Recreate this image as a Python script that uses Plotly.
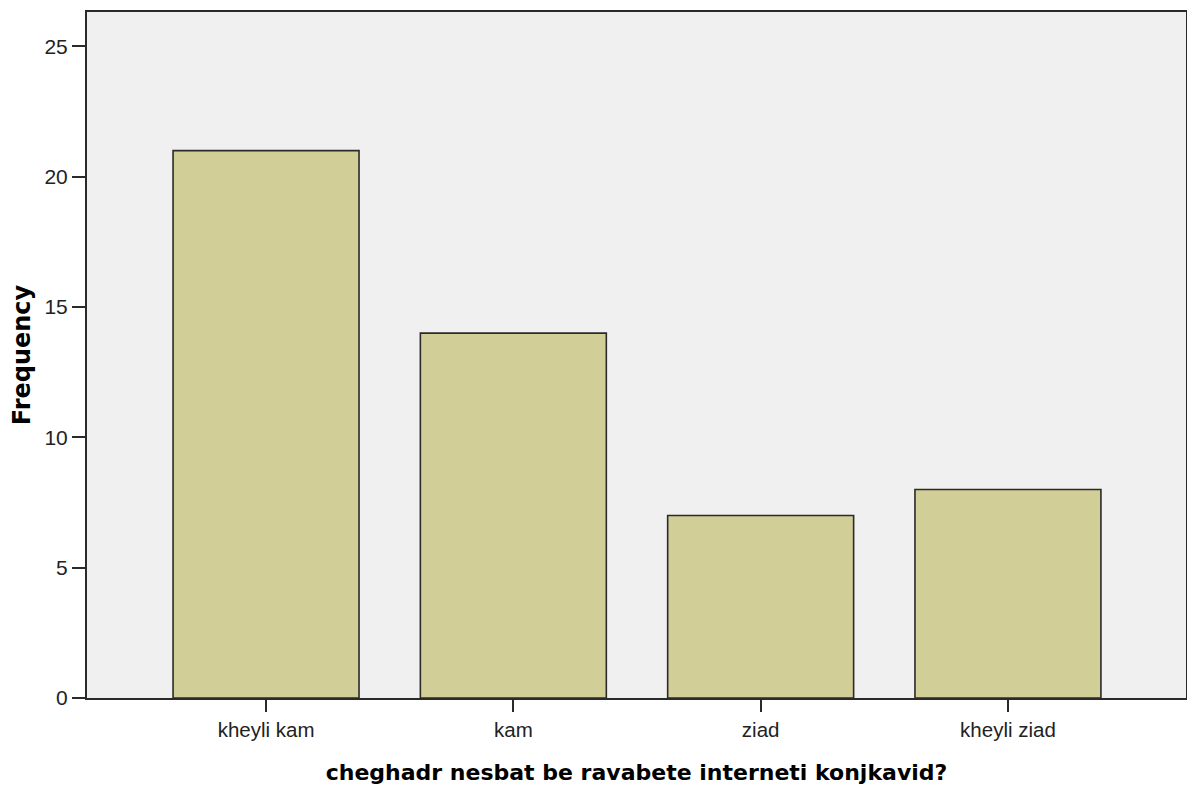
import plotly.graph_objects as go

categories = ["kheyli kam", "kam", "ziad", "kheyli ziad"]
frequencies = [21, 14, 7, 8]
y_ticks = [0, 5, 10, 15, 20, 25]

x_title = "cheghadr nesbat be ravabete interneti konjkavid?"
y_title = "Frequency"

fig = go.Figure()
fig.add_trace(go.Bar(
    x=list(range(len(categories))),
    y=frequencies,
    width=0.752,
    marker=dict(color="#D2CE97", line=dict(color="#2a2a2a", width=1.6)),
    hoverinfo="x+y",
))

bold_font = "DejaVu Sans, Verdana, sans-serif"
fig.update_layout(
    width=1187, height=785,
    margin=dict(l=79, r=9, t=2, b=95),
    paper_bgcolor="white",
    plot_bgcolor="#F0F0F0",
    showlegend=False,
    font=dict(family="Liberation Sans, Arial, sans-serif", color="#222"),
)
fig.update_xaxes(
    range=[-0.724, 3.72],
    tickmode="array",
    tickvals=list(range(len(categories))),
    ticktext=categories,
    ticks="outside", ticklen=12, tickwidth=1.6, tickcolor="#2a2a2a",
    tickfont=dict(size=20.5, color="#222"),
    showline=True, linecolor="#2a2a2a", linewidth=2, mirror=True,
    showgrid=False, zeroline=False,
    title=dict(text=x_title, font=dict(size=22, color="black", family=bold_font, weight="bold"), standoff=25),
)
fig.update_yaxes(
    range=[0, 26.32],
    tickmode="array",
    tickvals=y_ticks,
    ticks="outside", ticklen=13, tickwidth=1.6, tickcolor="#2a2a2a",
    tickfont=dict(size=21, color="#222"),
    showline=True, linecolor="#2a2a2a", linewidth=2, mirror=True,
    showgrid=False, zeroline=False,
    title=dict(text=y_title, font=dict(size=24, color="black", family=bold_font, weight="bold"), standoff=10),
)

fig.write_html("out.html")
